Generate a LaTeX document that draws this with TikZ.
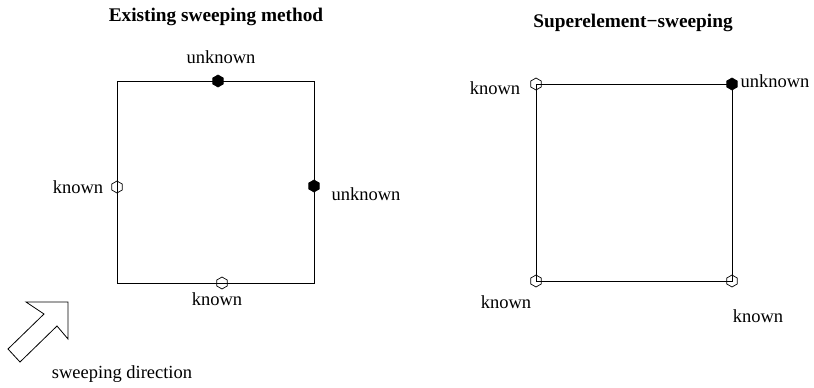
\documentclass[tikz,border=0pt]{standalone}
\usepackage{fontspec}
\setmainfont{Liberation Serif}
\usetikzlibrary{shapes.geometric}
\begin{document}
\begin{tikzpicture}[x=1pt,y=-1pt,
  hexo/.style={draw, line width=0.7pt, regular polygon, regular polygon sides=6, shape border rotate=30, inner sep=0pt, minimum size=12pt},
  hexf/.style={hexo, fill=black},
  lbl/.style={font=\fontsize{18.5}{20}\selectfont, inner sep=0pt},
  ttl/.style={font=\fontsize{19.3}{21}\selectfont\bfseries, inner sep=0pt},
  edge/.style={line width=0.8pt}]
\useasboundingbox (0,0) rectangle (814,388);
% left square
\coordinate (a1) at (117,81);
\coordinate (a2) at (314,81);
\coordinate (a3) at (314,283);
\coordinate (a4) at (117,283);
\draw[edge] (a1) -- (a2) -- (a3) -- (a4) -- cycle;
\node[hexf] (lt) at (218,81) {};
\node[hexf] (lr) at (314,186) {};
\node[hexo] (ll) at (117,187) {};
\node[hexo] (lb) at (222,283) {};
\node[lbl] (tlt) at (221,57) {unknown};
\node[lbl] (tll) at (78,187) {known};
\node[lbl] (tlr) at (366,194) {unknown};
\node[lbl] (tlb) at (217,299) {known};
\node[ttl] (t1) at (216,17) {Existing sweeping method};
% right square
\coordinate (b1) at (536,84);
\coordinate (b2) at (732,84);
\coordinate (b3) at (732,281);
\coordinate (b4) at (536,281);
\draw[edge] (b1) -- (b2) -- (b3) -- (b4) -- cycle;
\node[hexo] (r1) at (b1) {};
\node[hexf] (r2) at (b2) {};
\node[hexo] (r3) at (b3) {};
\node[hexo] (r4) at (b4) {};
\node[lbl] (tr1) at (495,88) {known};
\node[lbl] (tr2) at (775,81) {unknown};
\node[lbl] (tr4) at (506,302) {known};
\node[lbl] (tr3) at (758,316) {known};
\node[ttl] (t2) at (633,23) {Superelement\textminus sweeping};
% arrow
\draw[edge, fill=white] (68,302) -- (26,302) -- (44,314) -- (8,349) -- (20,362) -- (57,326) -- (68,339) -- cycle;
\node[lbl] (sd) at (122,374) {sweeping direction};
\end{tikzpicture}
\end{document}
